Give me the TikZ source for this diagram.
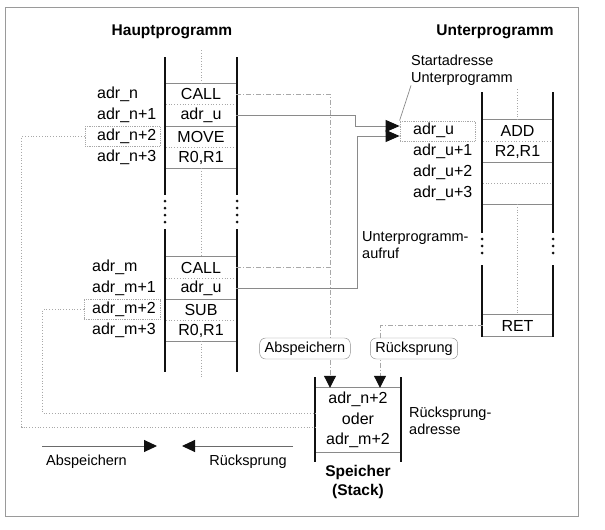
\documentclass[tikz,border=0pt]{standalone}
\usepackage{fontspec}
\setmainfont{Liberation Sans}
\usepackage{tikz}
\usetikzlibrary{arrows.meta,positioning,calc}
\definecolor{railblack}{HTML}{111111}
\definecolor{linegray}{HTML}{8A8A8A}
\definecolor{dotgray}{HTML}{A8A8A8}
\definecolor{darkline}{HTML}{6A6A6A}
\definecolor{framegray}{HTML}{9A9A9A}
\tikzset{
  cell/.style={
    minimum width=70pt,
    minimum height=21pt,
    inner sep=0pt,
    font=\fontsize{16}{18}\selectfont
  },
  addr/.style={anchor=west, inner sep=0pt, font=\fontsize{16}{18}\selectfont},
  lbl/.style={inner sep=0pt, font=\fontsize{14.5}{17}\selectfont},
  note/.style={lbl, anchor=west, align=left},
  headline/.style={inner sep=0pt, align=center, font=\fontsize{15.5}{19}\selectfont\bfseries},
  rail/.style={draw=railblack, line width=2.8pt},
  raildots/.style={draw=railblack, line width=3pt, line cap=round, dash pattern=on 0pt off 7pt},
  rowline/.style={draw=linegray, line width=0.9pt},
  rowdots/.style={draw=dotgray, line width=0.8pt, dotted},
  midline/.style={draw=dotgray, line width=0.7pt, dotted},
  addrbox/.style={draw=dotgray, densely dotted, line width=0.8pt, minimum height=20pt, inner sep=0pt},
  callarrow/.style={-{Triangle[length=14pt,width=12pt,railblack]}, draw=linegray, line width=1pt},
  dashdot/.style={draw=dotgray, line width=1pt, dash pattern=on 5pt off 2pt on 1pt off 2pt},
  stackarrow/.style={dashdot, -{Triangle[length=12pt,width=12pt,railblack]}},
  retline/.style={draw=dotgray, line width=0.8pt, dotted},
  leader/.style={draw=linegray, line width=0.7pt},
  tag/.style={draw=linegray, fill=white, rounded corners=6pt, minimum height=21pt, inner xsep=5pt, inner ysep=0pt, font=\fontsize{14.5}{17}\selectfont},
  legendarrow/.style={-{Triangle[length=13pt,width=12pt,railblack]}, draw=darkline, line width=1pt}
}

\begin{document}
\begin{tikzpicture}[x=1pt, y=-1pt]
\useasboundingbox (0,0) rectangle (605,530);
\draw[framegray, line width=1pt] (5,7) rectangle (578,516);

% titles
\node[headline] (haupt) at (172,32) {Hauptprogramm};
\node[headline] (unter) at (495,32) {Unterprogramm};

% Hauptprogramm, first call
\node[cell] (hcall) at (201,94) {CALL};
\node[cell] (hadr) at (201,115.5) {adr\_u};
\node[cell] (hmove) at (201,136.5) {MOVE};
\node[cell] (hreg) at (201,157.5) {R0,R1};
\node[addr] (an) at (97,94) {adr\_n};
\node[addr] (an1) at (97,115.5) {adr\_n+1};
\node[addr] (an2) at (97,136.5) {adr\_n+2};
\node[addr] (an3) at (97,157.5) {adr\_n+3};
\node[addrbox, minimum width=75pt] (hn2box) at (122.5,136.5) {};

% Hauptprogramm, second call
\node[cell] (lcall) at (201,267.5) {CALL};
\node[cell] (ladr) at (201,288.5) {adr\_u};
\node[cell] (lsub) at (201,309.5) {SUB};
\node[cell] (lreg) at (201,330.5) {R0,R1};
\node[addr] (am) at (92,267.5) {adr\_m};
\node[addr] (am1) at (92,288.5) {adr\_m+1};
\node[addr] (am2) at (92,309.5) {adr\_m+2};
\node[addr] (am3) at (92,330.5) {adr\_m+3};
\node[addrbox, minimum width=76pt] (lm2box) at (122,309.5) {};

% Unterprogramm
\node[cell, minimum width=69pt] (uadd) at (517.5,130.5) {ADD};
\node[cell, minimum width=69pt] (ureg) at (517.5,151.5) {R2,R1};
\node[cell, minimum width=69pt] (uemp1) at (517.5,172.5) {};
\node[cell, minimum width=69pt] (uemp2) at (517.5,193.5) {};
\node[cell, minimum width=69pt] (ret) at (517.5,325.5) {RET};
\node[addr] (au) at (413,130.5) {adr\_u};
\node[addr] (au1) at (413,151.5) {adr\_u+1};
\node[addr] (au2) at (413,172.5) {adr\_u+2};
\node[addr] (au3) at (413,193.5) {adr\_u+3};
\node[addrbox, minimum width=75pt] (adrubox) at (437.5,131) {};

% Stack
\node[cell, minimum width=84pt, minimum height=64pt, align=center, font=\fontsize{16}{20.5}\selectfont] (stk) at (358,420) {adr\_n+2\\oder\\adr\_m+2};
\node[headline] (stklbl) at (358,482) {Speicher\\(Stack)};
\coordinate (savein) at ([xshift=-28pt]stk.north);
\coordinate (retin) at ([xshift=22pt]stk.north);

% notes
\node[note] (startlbl) at (411,70) {Startadresse\\Unterprogramm};
\node[note] (aufruflbl) at (362,245.5) {Unterprogramm-\\aufruf};
\node[note] (rsadr) at (409,420.5) {Rücksprung-\\adresse};

% row lines
\draw[rowline] (hcall.north west) -- (hcall.north east);
\draw[rowdots] (hcall.south west) -- (hcall.south east);
\draw[rowline] (hadr.south west) -- (hadr.south east);
\draw[rowdots] (hmove.south west) -- (hmove.south east);
\draw[rowline] (hreg.south west) -- (hreg.south east);
\draw[rowline] (lcall.north west) -- (lcall.north east);
\draw[rowdots] (lcall.south west) -- (lcall.south east);
\draw[rowline] (ladr.south west) -- (ladr.south east);
\draw[rowdots] (lsub.south west) -- (lsub.south east);
\draw[rowline] (lreg.south west) -- (lreg.south east);
\draw[rowline] (uadd.north west) -- (uadd.north east);
\draw[rowdots] (uadd.south west) -- (uadd.south east);
\draw[rowline] (ureg.south west) -- (ureg.south east);
\draw[rowdots] (uemp1.south west) -- (uemp1.south east);
\draw[rowline] (uemp2.south west) -- (uemp2.south east);
\draw[rowline] (ret.north west) -- (ret.north east);
\draw[rowline] (ret.south west) -- (ret.south east);
\draw[rowline] (stk.north west) -- (stk.north east);
\draw[rowline] (stk.south west) -- (stk.south east);

% dotted middle lines
\draw[midline] (hcall.north) -- ++(0,-33);
\draw[midline] (hreg.south) -- (lcall.north);
\draw[midline] (lreg.south) -- ++(0,37);
\draw[midline] (uadd.north) -- ++(0,-32);
\draw[midline] (uemp2.south) -- (ret.north);

% rails
\draw[rail] (165,57) -- (165,195);
\draw[raildots] (165,201) -- (165,223);
\draw[rail] (165,229) -- (165,372);
\draw[rail] (237,57) -- (237,195);
\draw[raildots] (237,201) -- (237,223);
\draw[rail] (237,229) -- (237,372);
\draw[rail] (482,92) -- (482,233);
\draw[raildots] (482,239) -- (482,260);
\draw[rail] (482,265) -- (482,337);
\draw[rail] (553,92) -- (553,233);
\draw[raildots] (553,239) -- (553,260);
\draw[rail] (553,265) -- (553,337);
\draw[rail] (315,377) -- (315,462);
\draw[rail] (401,377) -- (401,462);

% connectors
\draw[leader] (startlbl.south west) -- (adrubox.north west);
\draw[callarrow] (hadr.east) -- ++(119,0) |- ([yshift=5pt]adrubox.west);
\draw[callarrow] (ladr.east) -- ++(121,0) |- ([yshift=-5pt]adrubox.west);
\draw[stackarrow] (hcall.east) -| (savein);
\draw[dashdot] (lcall.east) -- (lcall.east -| savein);
\draw[stackarrow] (ret.west) -| (retin);
\draw[retline] (hn2box.west) -- ++(-63,0) |- ([yshift=-7pt]stk.west);
\draw[retline] (lm2box.west) -- ++(-41,0) |- ([yshift=7pt]stk.west);
\node[tag] (savetag) at (305,348.5) {Abspeichern};
\node[tag] (rettag) at (414,348.5) {Rücksprung};

% legend
\coordinate (legsave) at (42,446);
\coordinate (legsaveend) at (157,446);
\coordinate (legret) at (293,446);
\coordinate (legretend) at (182,446);
\draw[legendarrow] (legsave) -- (legsaveend);
\draw[legendarrow] (legret) -- (legretend);
\node[lbl] (legsavelbl) at (86.5,461.5) {Abspeichern};
\node[lbl] (legretlbl) at (248,461.5) {Rücksprung};
\end{tikzpicture}
\end{document}
